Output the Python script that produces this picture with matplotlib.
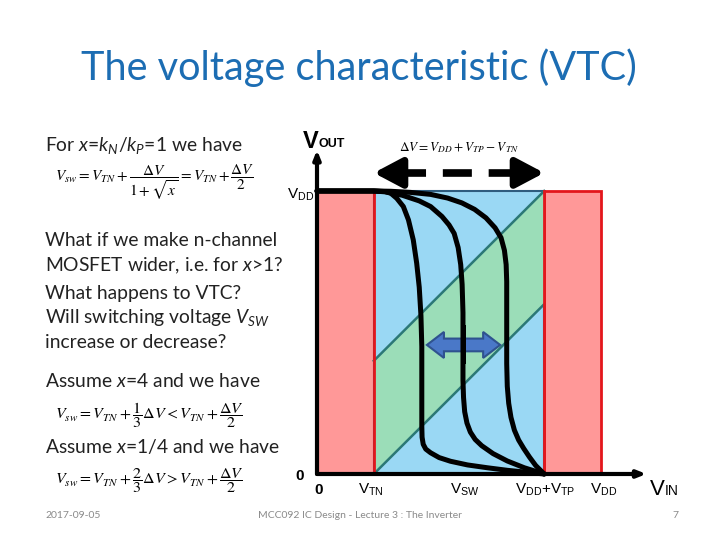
import matplotlib
matplotlib.use("Agg")
import matplotlib.pyplot as plt
from matplotlib.patches import Rectangle, FancyArrow
import numpy as np

plt.rcParams['font.family'] = ['Lato', 'DejaVu Sans']
plt.rcParams['mathtext.fontset'] = 'custom'
plt.rcParams['mathtext.rm'] = 'Lato'
plt.rcParams['mathtext.it'] = 'Lato:italic'
plt.rcParams['mathtext.bf'] = 'Lato:bold'

# voltages (normalised to VDD)
vdd = 1.0
vtn = 0.2
vtp = -0.2
vsw = 0.514

# VTC curves: n wider (x=4), balanced (x=1), p wider (x=1/4)
vin_x4 = [0.0, 0.20, 0.24, 0.26, 0.281, 0.304, 0.322, 0.339, 0.351, 0.360, 0.366, 0.369,
          0.369, 0.370, 0.374, 0.383, 0.40, 0.43, 0.47, 0.53, 0.60, 0.67, 0.74, 0.80]
vout_x4 = [1.0, 1.0, 0.998, 0.992, 0.974, 0.945, 0.898, 0.827, 0.745, 0.66, 0.56, 0.45,
           0.17, 0.13, 0.105, 0.088, 0.075, 0.058, 0.045, 0.032, 0.022, 0.013, 0.006, 0.0]
vin_x1 = [0.0, 0.20, 0.24, 0.30, 0.36, 0.40, 0.44, 0.465, 0.483, 0.497, 0.506, 0.511,
          0.514, 0.514, 0.516, 0.520, 0.528, 0.540, 0.557, 0.580, 0.62, 0.67, 0.73, 0.80]
vout_x1 = [1.0, 1.0, 0.997, 0.985, 0.965, 0.945, 0.91, 0.88, 0.85, 0.80, 0.74, 0.67,
           0.57, 0.33, 0.27, 0.22, 0.18, 0.148, 0.122, 0.10, 0.072, 0.046, 0.022, 0.0]
vin_xq = [0.0, 0.20, 0.26, 0.33, 0.40, 0.46, 0.51, 0.555, 0.595, 0.627, 0.648, 0.660,
          0.666, 0.668, 0.668, 0.670, 0.675, 0.683, 0.695, 0.710, 0.728, 0.748, 0.770, 0.80]
vout_xq = [1.0, 1.0, 0.999, 0.995, 0.988, 0.975, 0.958, 0.935, 0.905, 0.87, 0.835, 0.79,
           0.74, 0.68, 0.39, 0.31, 0.25, 0.20, 0.155, 0.12, 0.09, 0.06, 0.03, 0.0]

pink = '#FF9898'
red = '#E3161C'
blue = '#9AD8F4'
green = '#9BDDB8'
teal = '#2B7876'
slide_text = '#222222'
body = 13.9


def fpos(px, py):
    return px / 720, 1 - py / 540


fig = plt.figure(figsize=(7.2, 5.4), dpi=100)
fig.patch.set_facecolor('white')

# title
fig.text(*fpos(359, 68), 'The voltage characteristic (VTC)', fontsize=28.6,
         color='#1C6DB3', ha='center', va='center')

# left column text
fig.text(*fpos(45, 145), r'For $x$=$k_N$/$k_P$=1 we have', fontsize=body,
         color=slide_text, va='center')
fig.text(*fpos(55, 183), r'$V_{sw} = V_{TN} + \dfrac{\Delta V}{1+\sqrt{x}} = V_{TN} + \dfrac{\Delta V}{2}$',
         fontsize=11, math_fontfamily='stix', va='center')
fig.text(*fpos(45, 241), 'What if we make n-channel', fontsize=body, color=slide_text, va='center')
fig.text(*fpos(45, 266), r'MOSFET wider, i.e. for $x$>1?', fontsize=body, color=slide_text, va='center')
fig.text(*fpos(45, 293), 'What happens to VTC?', fontsize=body, color=slide_text, va='center')
fig.text(*fpos(45, 317), r'Will switching voltage $V_{SW}$', fontsize=body, color=slide_text, va='center')
fig.text(*fpos(45, 342), 'increase or decrease?', fontsize=body, color=slide_text, va='center')
fig.text(*fpos(45, 381), r'Assume $x$=4 and we have', fontsize=body, color=slide_text, va='center')
fig.text(*fpos(55, 415), r'$V_{sw} = V_{TN} + \dfrac{1}{3}\Delta V < V_{TN} + \dfrac{\Delta V}{2}$',
         fontsize=11.5, math_fontfamily='stix', va='center')
fig.text(*fpos(45, 446), r'Assume $x$=1/4 and we have', fontsize=body, color=slide_text, va='center')
fig.text(*fpos(55, 481), r'$V_{sw} = V_{TN} + \dfrac{2}{3}\Delta V > V_{TN} + \dfrac{\Delta V}{2}$',
         fontsize=11.5, math_fontfamily='stix', va='center')

# footer
fig.text(*fpos(45, 515), '2017-09-05', fontsize=7.5, color='#8a8a8a', va='center')
fig.text(*fpos(360, 515), 'MCC092 IC Design - Lecture 3 : The Inverter', fontsize=7.5,
         color='#8a8a8a', ha='center', va='center')
fig.text(*fpos(675, 515), '7', fontsize=7.5, color='#8a8a8a', ha='center', va='center')

# diagram axes, 284 px per VDD in both directions
ax = fig.add_axes([270 / 720, 40 / 540, 420 / 720, 370 / 540])
ax.set_xlim(-0.1655, 1.3134)
ax.set_ylim(-0.0919, 1.2155)
ax.axis('off')

# regions
ax.add_patch(Rectangle((0, 0), vtn, vdd, fc=pink, ec=red, lw=2, zorder=1))
ax.add_patch(Rectangle((vdd + vtp, 0), -vtp, vdd, fc=pink, ec=red, lw=2, zorder=1))
ax.add_patch(Rectangle((vtn, 0), vdd + vtp - vtn, vdd, fc=blue, ec='#2F5C7E', lw=1.5, zorder=1))
xb = np.array([vtn, vdd + vtp])
ax.fill_between(xb, xb - vtn, xb + vtn, color=green, lw=0, zorder=2)
ax.plot(xb, xb - vtn, color=teal, lw=1.8, zorder=3)
ax.plot(xb, xb + vtn, color=teal, lw=1.8, zorder=3)
ax.plot([vtn, vtn], [0, vdd], color=red, lw=2, zorder=3)
ax.plot([vdd + vtp, vdd + vtp], [0, vdd], color=red, lw=2, zorder=3)

# VTC curves
for vin, vout in [(vin_x4, vout_x4), (vin_x1, vout_x1), (vin_xq, vout_xq)]:
    ax.plot(vin, vout, color='black', lw=3.6, solid_joinstyle='round',
            solid_capstyle='round', zorder=5)

# axes arrows
ax.annotate('', xy=(1.16, 0), xytext=(0, 0), zorder=6,
            arrowprops=dict(arrowstyle='-|>,head_length=0.5,head_width=0.2', lw=3,
                            color='black', shrinkA=0, shrinkB=0))
ax.annotate('', xy=(0, 1.145), xytext=(0, 0), zorder=6,
            arrowprops=dict(arrowstyle='-|>,head_length=0.5,head_width=0.2', lw=3,
                            color='black', shrinkA=0, shrinkB=0))

# dashed delta-V arrow
ya = 1.064
ax.plot([vtn + 0.08, vdd + vtp - 0.08], [ya, ya], color='black', lw=5.5,
        ls=(0, (3.8, 2.2)), solid_capstyle='butt')
for tip, tail in [(vtn, vtn + 0.1), (vdd + vtp, vdd + vtp - 0.1)]:
    ax.annotate('', xy=(tip, ya), xytext=(tail, ya),
                arrowprops=dict(arrowstyle='-|>,head_length=0.85,head_width=0.45', lw=5,
                                color='black', shrinkA=0, shrinkB=0, mutation_scale=20))
ax.text((vtn + vdd + vtp) / 2, 1.152, r'$\Delta V = V_{DD} + V_{TP} - V_{TN}$',
        fontsize=9.5, math_fontfamily='stix', ha='center', va='center')

# blue double arrow around VSW
for dx in [-0.128, 0.130]:
    ax.add_patch(FancyArrow(vsw + 0.001, 0.456, dx, 0, width=0.045, head_width=0.092,
                            head_length=0.06, length_includes_head=True,
                            fc='#4A78C8', ec='#2F528F', lw=1.5, zorder=4))
ax.plot([vsw, vsw], [0.40, 0.52], color='black', lw=3.6, zorder=5)

# axis labels
lab = dict(family=['Liberation Sans', 'DejaVu Sans'], color='black')
t = ax.text(-0.05, 1.175, 'V', fontsize=17, fontweight='bold', va='center', **lab)
ax.annotate('OUT', xy=(1, 0.12), xycoords=t, fontsize=9, fontweight='bold',
            va='bottom', ha='left', **lab)
ax.text(-0.106, 0.986, r'V$_{\mathregular{DD}}$', fontsize=11, va='center', **lab)
ax.text(-0.06, -0.007, '0', fontsize=11, fontweight='bold', ha='center', va='center', **lab)
ax.text(0.004, -0.057, '0', fontsize=11, fontweight='bold', ha='center', va='center', **lab)
ax.text(0.144, -0.057, r'V$_{\mathregular{TN}}$', fontsize=11, va='center', **lab)
ax.text(0.468, -0.057, r'V$_{\mathregular{SW}}$', fontsize=11, va='center', **lab)
ax.text(0.697, -0.057, r'V$_{\mathregular{DD}}$+V$_{\mathregular{TP}}$', fontsize=11,
        va='center', **lab)
ax.text(0.962, -0.057, r'V$_{\mathregular{DD}}$', fontsize=11, va='center', **lab)
t = ax.text(1.171, -0.055, 'V', fontsize=16, va='center', **lab)
ax.annotate('IN', xy=(1, 0.1), xycoords=t, fontsize=10, va='bottom', ha='left', **lab)

plt.savefig('out.png', dpi=100)
plt.close()
